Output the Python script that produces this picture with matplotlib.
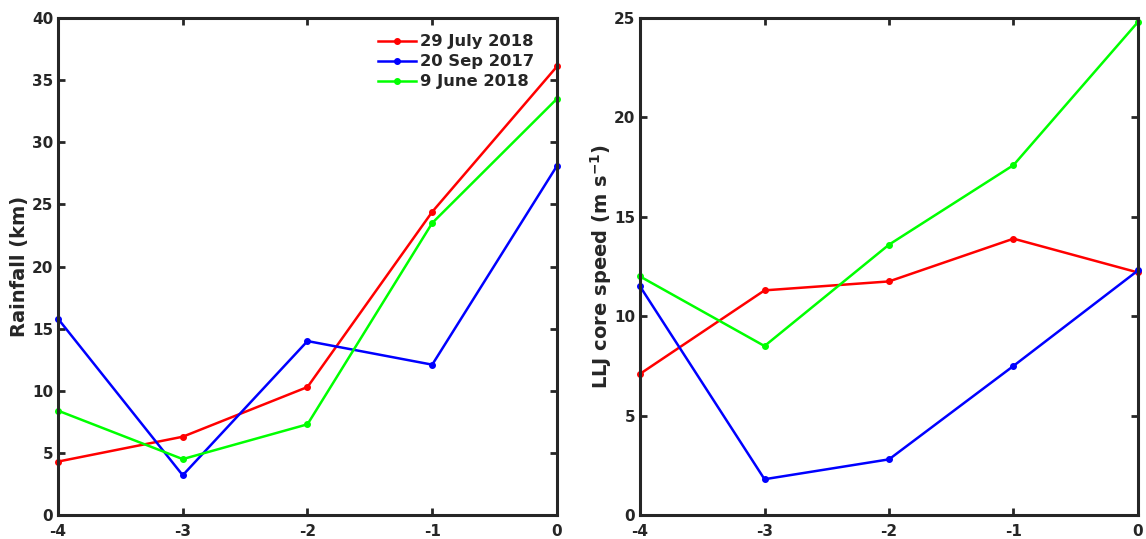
import matplotlib.pyplot as plt
import numpy as np

# lead time (hours) relative to event
hours = [-4, -3, -2, -1, 0]
labels = ['29 July 2018', '20 Sep 2017', '9 June 2018']
colors = ['#ff0000', '#0000ff', '#00ff00']

rain_jul = [4.3, 6.3, 10.3, 24.4, 36.1]
rain_sep = [15.8, 3.2, 14.0, 12.1, 28.1]
rain_jun = [8.4, 4.5, 7.3, 23.5, 33.5]

llj_jul = [7.1, 11.3, 11.75, 13.9, 12.2]
llj_sep = [11.5, 1.8, 2.8, 7.5, 12.3]
llj_jun = [12.0, 8.5, 13.6, 17.6, 24.8]

plt.rcParams['font.family'] = 'DejaVu Sans'
plt.rcParams['font.weight'] = 'bold'
plt.rcParams['axes.unicode_minus'] = False
edge = '#262626'

fig = plt.figure(figsize=(11.46, 5.39), dpi=100)
ax1 = fig.add_axes([0.0506, 0.0445, 0.4354, 0.9221])
ax2 = fig.add_axes([0.5585, 0.0445, 0.4345, 0.9221])


def style(ax, ylim, yticks):
    ax.set_xlim(-4, 0)
    ax.set_ylim(*ylim)
    ax.set_xticks(hours)
    ax.set_yticks(yticks)
    ax.tick_params(direction='in', top=True, right=True, length=5, width=2,
                   color=edge, labelsize=11, labelcolor=edge)
    ax.tick_params(axis='y', pad=3.5)
    ax.tick_params(axis='x', pad=6.5)
    for lab in ax.get_xticklabels() + ax.get_yticklabels():
        lab.set_fontweight('bold')
    for s in ax.spines.values():
        s.set_linewidth(2.2)
        s.set_color(edge)


for vals, c, lab in zip([rain_jul, rain_sep, rain_jun], colors, labels):
    ax1.plot(hours, vals, color=c, lw=1.8, marker='o', ms=4, label=lab, clip_on=False)
style(ax1, (0, 40), np.arange(0, 41, 5))
ax1.set_ylabel('Rainfall (km)', fontsize=14, fontweight='bold', color=edge, labelpad=2)
leg = ax1.legend(loc='upper right', frameon=False, fontsize=11.8, handlelength=2.3,
                 handletextpad=0.25, labelspacing=0.3, borderaxespad=1.0,
                 bbox_to_anchor=(1.0, 1.013))
for t in leg.get_texts():
    t.set_fontweight('bold')
    t.set_color(edge)

for vals, c in zip([llj_jul, llj_sep, llj_jun], colors):
    ax2.plot(hours, vals, color=c, lw=1.8, marker='o', ms=4, clip_on=False)
style(ax2, (0, 25), np.arange(0, 26, 5))
ax2.set_ylabel(r'LLJ core speed (m s$^{\mathbf{-1}}$)', fontsize=14, fontweight='bold',
               color=edge, labelpad=0)

fig.savefig('out.png', dpi=100)
